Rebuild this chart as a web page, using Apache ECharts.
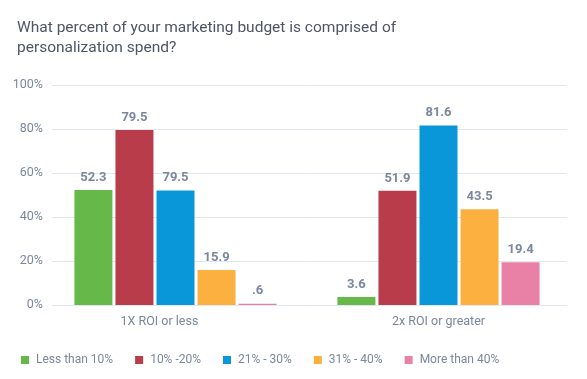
<!DOCTYPE html>
<html>
<head>
<meta charset="utf-8">
<script src="https://cdn.jsdelivr.net/npm/echarts@6/dist/echarts.min.js"></script>
<style>html,body{margin:0;padding:0;background:#fff}#c{width:587px;height:379px}</style>
</head>
<body>
<div id="c"></div>
<script>
const categories = ['1X ROI or less', '2x ROI or greater'];
const seriesNames = ['Less than 10%', '10% -20%', '21% - 30%', '31% - 40%', 'More than 40%'];
const lessThan10 = [52.3, 3.6];
const from10to20 = [79.5, 51.9];
const from21to30 = [52.0, 81.6];
const from31to40 = [15.9, 43.5];
const moreThan40 = [0.6, 19.4];
const lessThan10Labels = ['52.3', '3.6'];
const from10to20Labels = ['79.5', '51.9'];
const from21to30Labels = ['79.5', '81.6'];
const from31to40Labels = ['15.9', '43.5'];
const moreThan40Labels = ['.6', '19.4'];
const yTicks = [0, 20, 40, 60, 80, 100];

const colors = ['#66b848', '#b83c4a', '#0a97da', '#fbb040', '#e981a6'];
const values = [lessThan10, from10to20, from21to30, from31to40, moreThan40];
const labels = [lessThan10Labels, from10to20Labels, from21to30Labels, from31to40Labels, moreThan40Labels];
const gray = '#7b879b';
const font = 'Roboto, "DejaVu Sans", sans-serif';

const chart = echarts.init(document.getElementById('c'));
chart.setOption({
  animation: false,
  color: colors,
  title: {
    text: 'What percent of your marketing budget is comprised of\npersonalization spend?',
    left: 12, top: 13,
    textStyle: { color: '#4d5666', fontSize: 15.5, fontWeight: 'normal', fontFamily: font, lineHeight: 20 }
  },
  legend: {
    left: 16, top: 349,
    itemWidth: 8, itemHeight: 8, itemGap: 22,
    icon: 'rect',
    textStyle: { color: gray, fontSize: 12, fontFamily: font, padding: [0, 0, 0, 2] },
    data: seriesNames
  },
  grid: [
    { left: 52, right: 20, top: 85, bottom: 74 },
    { left: 44, right: 17, top: 85, bottom: 74 }
  ],
  xAxis: [
    { gridIndex: 0, type: 'category', data: categories, show: false },
    {
      gridIndex: 1, type: 'category', data: categories,
      axisLine: { show: false }, axisTick: { show: false },
      axisLabel: {
        margin: 10,
        formatter: function (v, i) { return i === 0 ? '{a|' + v + '}' : '{b|' + v + '}'; },
        rich: {
          a: { color: gray, fontSize: 12.5, fontFamily: font, padding: [0, 32, 0, 0] },
          b: { color: gray, fontSize: 12.5, fontFamily: font }
        }
      }
    }
  ],
  yAxis: [
    {
      gridIndex: 0, type: 'value', min: 0, max: 100, interval: 20,
      axisLine: { show: false }, axisTick: { show: false },
      splitLine: { lineStyle: { color: '#e2e8f0', width: 1 } },
      axisLabel: {
        margin: 9, color: gray, fontSize: 12.5, fontFamily: font,
        formatter: function (v) { return yTicks.indexOf(v) >= 0 ? v + '%' : ''; }
      }
    },
    { gridIndex: 1, type: 'value', min: 0, max: 100, interval: 20, show: false, splitLine: { show: false } }
  ],
  series: seriesNames.map(function (name, s) {
    return {
      name: name, type: 'bar', xAxisIndex: 1, yAxisIndex: 1,
      data: values[s], barWidth: 38, barGap: '8%',
      itemStyle: { color: colors[s] },
      label: {
        show: true, position: 'top', distance: 6,
        color: gray, fontSize: 13, fontWeight: 'bold', fontFamily: font,
        formatter: function (p) { return labels[s][p.dataIndex]; }
      }
    };
  })
});
</script>
</body>
</html>
